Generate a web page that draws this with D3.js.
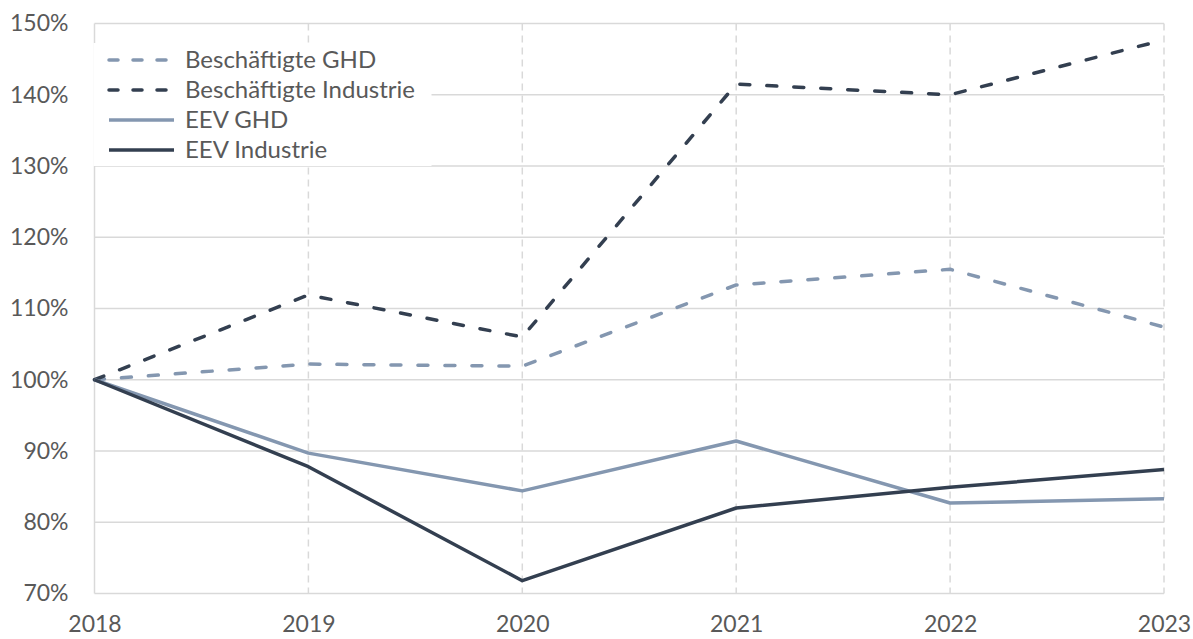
<!DOCTYPE html>
<html>
<head>
<meta charset="utf-8">
<style>
  body { margin: 0; background: #fff; }
  text { font-family: Lato, "Open Sans", sans-serif; fill: #595959; }
</style>
</head>
<body>
<script src="https://d3js.org/d3.v7.min.js"></script>
<script>
// data
const years = [2018, 2019, 2020, 2021, 2022, 2023]
const beschGHD = [100, 102.2, 101.9, 113.3, 115.5, 107.4]
const beschIndustrie = [100, 111.9, 106.0, 141.5, 140.0, 147.7]
const eevGHD = [100, 89.7, 84.4, 91.4, 82.7, 83.3]
const eevIndustrie = [100, 87.8, 71.8, 82.0, 84.9, 87.4]
const yTicks = [70, 80, 90, 100, 110, 120, 130, 140, 150]

const series = [
  { name: "Beschäftigte GHD", values: beschGHD, color: "#8497b0", dashed: true },
  { name: "Beschäftigte Industrie", values: beschIndustrie, color: "#333f50", dashed: true },
  { name: "EEV GHD", values: eevGHD, color: "#8497b0", dashed: false },
  { name: "EEV Industrie", values: eevIndustrie, color: "#333f50", dashed: false }
]

const w = 1193
const h = 639
const plotLeft = 94.5, plotRight = 1164, plotTop = 23.5, plotBottom = 593.5

const svg = d3.select("body").append("svg").attr("width", w).attr("height", h)

const x = d3.scaleLinear().domain([2018, 2023]).range([plotLeft, plotRight])
const y = d3.scaleLinear().domain([70, 150]).range([plotBottom, plotTop])

// horizontal grid
svg.append("g").selectAll("line").data(yTicks).enter().append("line")
  .attr("x1", plotLeft).attr("x2", plotRight)
  .attr("y1", d => y(d)).attr("y2", d => y(d))
  .attr("stroke", "#d9d9d9").attr("stroke-width", 1.5)

// vertical dashed grid
svg.append("g").selectAll("line").data(years.slice(1)).enter().append("line")
  .attr("x1", d => x(d)).attr("x2", d => x(d))
  .attr("y1", plotTop).attr("y2", plotBottom)
  .attr("stroke", "#d9d9d9").attr("stroke-width", 1.5)
  .attr("stroke-dasharray", "7,5")

// left axis line
svg.append("line")
  .attr("x1", plotLeft).attr("x2", plotLeft).attr("y1", plotTop).attr("y2", plotBottom)
  .attr("stroke", "#d9d9d9").attr("stroke-width", 1.5)

// y axis labels
const yAxis = d3.axisLeft(y).tickValues(yTicks).tickFormat(d => d + "%").tickSize(0).tickPadding(26)
const gy = svg.append("g").attr("transform", "translate(" + plotLeft + ",0)").call(yAxis)
gy.select(".domain").remove()
gy.selectAll("text").style("font-size", "23px").style("font-family", "Lato, sans-serif").attr("fill", "#595959")

// x axis labels
const xAxis = d3.axisBottom(x).tickValues(years).tickFormat(d3.format("d")).tickSize(0).tickPadding(22)
const gx = svg.append("g").attr("transform", "translate(0," + plotBottom + ")").call(xAxis)
gx.select(".domain").remove()
gx.selectAll("text").style("font-size", "23px").style("font-family", "Lato, sans-serif").attr("fill", "#595959")

// legend box (drawn under the lines, over the grid)
svg.append("rect").attr("x", plotLeft - 1).attr("y", 43).attr("width", 338).attr("height", 123).attr("fill", "#fff")

const line = d3.line().x((d, i) => x(years[i])).y(d => y(d))

svg.append("g").selectAll("path").data(series).enter().append("path")
  .attr("d", d => line(d.values))
  .attr("fill", "none")
  .attr("stroke", d => d.color)
  .attr("stroke-width", 3.5)
  .attr("stroke-linejoin", "round")
  .attr("stroke-linecap", d => d.dashed ? "round" : "butt")
  .attr("stroke-dasharray", d => d.dashed ? "10,17" : null)

// legend
const lg = svg.append("g").selectAll("g").data(series).enter().append("g")
  .attr("transform", (d, i) => "translate(0," + (60 + i * 30) + ")")
lg.append("line")
  .attr("x1", 109).attr("x2", 174).attr("y1", 0).attr("y2", 0)
  .attr("stroke", d => d.color).attr("stroke-width", 3.5)
  .attr("stroke-linecap", d => d.dashed ? "round" : "butt")
  .attr("stroke-dasharray", d => d.dashed ? "9,15" : null)
lg.append("text")
  .attr("x", 185).attr("y", 0).attr("dy", "0.35em")
  .style("font-size", "24px")
  .text(d => d.name)
</script>
</body>
</html>
